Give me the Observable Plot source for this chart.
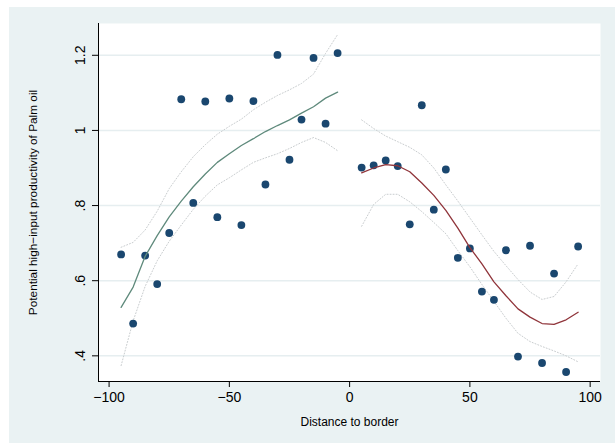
<!DOCTYPE html>
<html><head><meta charset="utf-8">
<script src="https://cdn.jsdelivr.net/npm/d3@7"></script>
<script src="https://cdn.jsdelivr.net/npm/@observablehq/plot@0.6"></script>
<style>
body{margin:0;background:#fff;}
#chart{position:absolute;left:9px;top:7px;}
</style></head><body><div id="chart"></div>
<script>
// Scatter data (binned means)
const distance = [-95,-90,-85,-80,-75,-70,-65,-60,-55,-50,-45,-40,-35,-30,-25,-20,-15,-10,-5,
                  5,10,15,20,25,30,35,40,45,50,55,60,65,70,75,80,85,90,95];
const productivity = [0.670,0.486,0.667,0.591,0.727,1.083,0.807,1.077,0.769,1.085,0.748,1.078,0.856,1.201,0.922,1.029,1.193,1.018,1.206,
                      0.901,0.907,0.920,0.905,0.750,1.067,0.789,0.896,0.661,0.686,0.571,0.549,0.681,0.398,0.693,0.381,0.619,0.357,0.691];

// Left-side fit and confidence band
const leftX = [-95,-90,-85,-80,-75,-70,-65,-60,-55,-50,-45,-40,-35,-30,-25,-20,-15,-10,-5];
const leftFit = [0.529,0.583,0.665,0.720,0.770,0.812,0.850,0.884,0.915,0.938,0.960,0.978,0.997,1.013,1.028,1.046,1.063,1.086,1.102];
const leftUpper = [0.689,0.702,0.735,0.785,0.845,0.890,0.930,0.962,0.990,1.011,1.030,1.055,1.075,1.093,1.108,1.125,1.150,1.205,1.255];
const leftLower = [0.374,0.493,0.585,0.653,0.705,0.748,0.790,0.825,0.855,0.874,0.895,0.915,0.927,0.938,0.952,0.968,0.981,0.968,0.946];

// Right-side fit and confidence band
const rightX = [5,10,15,20,25,30,35,40,45,50,55,60,65,70,75,80,85,90,95];
const rightFit = [0.887,0.900,0.909,0.906,0.890,0.860,0.827,0.787,0.740,0.688,0.645,0.597,0.560,0.525,0.503,0.486,0.484,0.496,0.516];
const rightUpper = [1.028,1.005,0.985,0.970,0.955,0.935,0.900,0.855,0.812,0.767,0.722,0.678,0.640,0.603,0.570,0.550,0.558,0.597,0.645];
const rightLower = [0.745,0.803,0.830,0.830,0.810,0.784,0.755,0.725,0.680,0.637,0.590,0.545,0.500,0.460,0.438,0.425,0.413,0.400,0.384];

// Axes
const xTicks = [-100,-50,0,50,100];
const xTickLabels = ["\u2212100","\u221250","0","50","100"];
const yTicks = [0.4,0.6,0.8,1,1.2];
const yTickLabels = [".4",".6",".8","1","1.2"];
const xTitle = "Distance to border";
const yTitle = "Potential high\u2212input productivity of Palm oil";

const xDomain = [-104.4, 104.3];
const yDomain = [0.3317, 1.2846];

const pts = distance.map((d,i)=>({x:d, y:productivity[i]}));
const series = (xs, ys) => xs.map((x,i)=>({x, y:ys[i]}));

const navy = "#1a476f", green = "#5f8a7c", maroon = "#90353b", ci = "#c9cdcf";

const chart = Plot.plot({
  width: 606, height: 436,
  marginLeft: 89, marginRight: 15, marginTop: 16, marginBottom: 62,
  x: {domain: xDomain, axis: null},
  y: {domain: yDomain, axis: null},
  style: {background: "#eaf2f3", fontFamily: "'Liberation Sans', Arial, sans-serif", color: "#000"},
  marks: [
    Plot.frame({fill: "white", stroke: "none"}),
    Plot.ruleY(yTicks, {stroke: "#e6eef0", strokeWidth: 1.5}),
    Plot.line(series(leftX, leftUpper), {x:"x", y:"y", stroke: ci, strokeWidth: 1, strokeDasharray: "1,2"}),
    Plot.line(series(leftX, leftLower), {x:"x", y:"y", stroke: ci, strokeWidth: 1, strokeDasharray: "1,2"}),
    Plot.line(series(rightX, rightUpper), {x:"x", y:"y", stroke: ci, strokeWidth: 1, strokeDasharray: "1,2"}),
    Plot.line(series(rightX, rightLower), {x:"x", y:"y", stroke: ci, strokeWidth: 1, strokeDasharray: "1,2"}),
    Plot.dot(pts, {x:"x", y:"y", r: 3.9, fill: navy, stroke: "none"}),
    Plot.line(series(leftX, leftFit), {x:"x", y:"y", stroke: green, strokeWidth: 1.3}),
    Plot.line(series(rightX, rightFit), {x:"x", y:"y", stroke: maroon, strokeWidth: 1.3}),
    Plot.ruleX([xDomain[0]], {stroke: "#000", strokeWidth: 1}),
    Plot.ruleY([yDomain[0]], {stroke: "#000", strokeWidth: 1}),
    Plot.axisX(xTicks, {tickSize: 6, tickPadding: 5, fontSize: 14, label: null,
      tickFormat: d => xTickLabels[xTicks.indexOf(d)]}),
    Plot.axisY(yTicks, {tickSize: 6, tickPadding: 8, fontSize: 14, label: null, tickRotate: -90,
      tickFormat: d => yTickLabels[yTicks.indexOf(d)]}),
    Plot.text([xTitle], {frameAnchor: "bottom", dy: 44, fontSize: 12, fill: "#000"}),
    Plot.text([yTitle], {frameAnchor: "left", textAnchor: "middle", rotate: -90, dx: -65, fontSize: 11.8, fill: "#000"})
  ]
});
document.getElementById("chart").appendChild(chart);
</script></body></html>
